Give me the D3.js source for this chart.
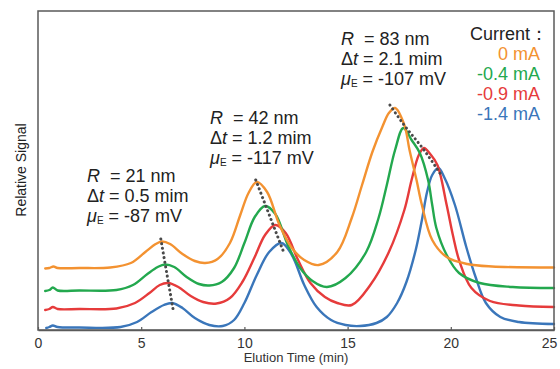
<!DOCTYPE html>
<html>
<head>
<meta charset="utf-8">
<script src="https://cdn.jsdelivr.net/npm/d3@7"></script>
<style>
  html, body { margin: 0; padding: 0; background: #fff; }
  svg text { font-family: "Liberation Sans", Arial, sans-serif; white-space: pre; }
</style>
</head>
<body>
<svg id="chart" width="560" height="369"></svg>
<script>
// ---- Data (elution time in min, relative signal in arbitrary units) ----
const seriesLabels = ["0 mA", "-0.4 mA", "-0.9 mA", "-1.4 mA"];
const seriesColors = ["#F39231", "#23A84E", "#E63B3B", "#3A76BA"];

const current0 = [[0.35,61.5],[0.55,62],[0.75,63.5],[0.95,62],[2.0,62],[3.5,62.5],[4.5,67],[5.2,78],[5.7,86],[6.0,88.5],[6.4,86],[7.0,76],[7.6,69],[8.1,67],[8.7,71],[9.3,87],[9.8,115],[10.2,137],[10.6,148],[11.1,138],[11.7,105],[12.3,82],[12.9,70],[13.6,65],[14.5,78],[15.2,112],[15.7,145],[16.2,178],[16.7,204],[17.0,217],[17.3,222],[17.75,205],[18.0,180],[18.34,150],[18.6,125],[19.1,90],[19.8,73],[20.8,66],[22,63.5],[25,62.5]];
const current04 = [[0.35,39],[0.55,40],[0.72,42.5],[0.95,39.5],[2.0,39.5],[3.8,40],[4.6,45],[5.3,56],[5.8,63],[6.15,65.5],[6.6,63],[7.2,53],[7.8,46],[8.3,44.5],[8.9,48],[9.5,62],[10.0,87],[10.5,113],[11.0,124],[11.5,116],[12.1,85],[12.7,62],[13.3,49],[14.0,43],[14.9,52],[15.9,78],[16.5,112],[16.9,145],[17.3,180],[17.7,202],[18.1,190],[18.5,177],[18.9,150],[19.1,125],[19.3,102],[19.8,75],[20.4,57],[21.4,47],[23,43],[25,42]];
const current09 = [[0.35,20],[0.55,21],[0.72,23],[0.95,21],[2.0,21],[3.8,21.5],[4.7,27],[5.4,37],[5.9,45],[6.3,47],[6.8,43],[7.4,34],[8.0,28],[8.65,26.5],[9.3,32],[9.9,48],[10.5,73],[11.0,95],[11.5,105],[12.0,97],[12.6,70],[13.2,47],[13.9,33],[14.5,27],[15.2,25],[16.1,45],[17.0,78],[17.75,120],[18.1,150],[18.45,175],[18.7,182],[19.0,176],[19.35,165],[19.8,125],[20.1,95],[20.4,70],[21.0,42],[21.9,29],[23.3,24.5],[25,23]];
const current14 = [[0.4,2],[0.55,3],[0.72,4.5],[0.95,3],[2.0,2.5],[4.0,3],[4.8,8],[5.5,18],[6.1,25],[6.5,27],[7.0,22],[7.6,12],[8.3,5],[8.95,4],[9.5,10],[10.0,27],[10.6,55],[11.2,78],[11.8,87],[12.3,75],[12.9,45],[13.5,23],[14.2,10],[14.9,5],[15.6,4],[16.4,7],[16.9,13],[17.4,27],[17.85,48],[18.3,80],[18.6,110],[18.85,138],[19.1,155],[19.4,162],[19.7,152],[20.2,125],[20.75,83],[21.2,53],[21.7,27],[22.4,13],[23.3,8],[25,6]];

// dotted guide lines through the peak maxima
const peakTrail1 = [[5.95,91],[6.55,20]];
const peakTrail2 = [[10.55,150],[11.9,78]];
const peakTrail3 = [[17.05,225],[17.7,206],[18.7,180],[19.6,153]];

const xTicks = [0, 5, 10, 15, 20, 25];
const annotations = [
  { R: "21", dt: "0.5", mu: "-87" },
  { R: "42", dt: "1.2", mu: "-117" },
  { R: "83", dt: "2.1", mu: "-107" }
];

// ---- Drawing ----
const svg = d3.select("#chart");
const x = d3.scaleLinear().domain([0, 25]).range([38, 554]);
const y = d3.scaleLinear().domain([0, 319]).range([330, 11]);

const line = d3.line().x(d => x(d[0])).y(d => y(d[1])).curve(d3.curveCatmullRom.alpha(0.5));

const allSeries = [current0, current04, current09, current14];
[3, 2, 1, 0].forEach(i => {
  svg.append("path")
    .attr("d", line(allSeries[i]))
    .attr("fill", "none")
    .attr("stroke", seriesColors[i])
    .attr("stroke-width", 2.4)
    .attr("stroke-linejoin", "round")
    .attr("stroke-linecap", "round");
});

const dotLine = d3.line().x(d => x(d[0])).y(d => y(d[1])).curve(d3.curveMonotoneX);
[peakTrail1, peakTrail2, peakTrail3].forEach(tr => {
  svg.append("path")
    .attr("d", dotLine(tr))
    .attr("fill", "none")
    .attr("stroke", "#4a4a4a")
    .attr("stroke-width", 3)
    .attr("stroke-linecap", "round")
    .attr("stroke-dasharray", "0.1 4.6");
});

// frame
svg.append("rect")
  .attr("x", x(0)).attr("y", y(319))
  .attr("width", x(25) - x(0)).attr("height", y(0) - y(319))
  .attr("fill", "none").attr("stroke", "#5a5a5a").attr("stroke-width", 1.5);

// x axis
const xAxis = svg.append("g")
  .attr("transform", `translate(0,${y(0)})`)
  .call(d3.axisBottom(x).tickValues(xTicks).tickFormat(d3.format("d")).tickSizeInner(-3).tickSizeOuter(0).tickPadding(8));
xAxis.select(".domain").attr("stroke", "#5a5a5a").attr("stroke-width", 1.5);
xAxis.selectAll(".tick line").attr("stroke", "#5a5a5a").attr("stroke-width", 1.2);
xAxis.selectAll(".tick text")
  .attr("font-family", "Liberation Sans, Arial, sans-serif")
  .attr("font-size", 14).attr("fill", "#333")
  .attr("dx", d => d === 25 ? -5 : 0);

svg.append("text")
  .attr("x", 296).attr("y", 362)
  .attr("text-anchor", "middle")
  .attr("font-size", 13).attr("fill", "#333")
  .text("Elution Time (min)");

svg.append("text")
  .attr("transform", "translate(26,170) rotate(-90)")
  .attr("text-anchor", "middle")
  .attr("font-size", 14).attr("fill", "#222")
  .text("Relative Signal");

// annotations
const annPos = [[87, 182], [210, 124], [341, 45]];
annotations.forEach((a, i) => {
  const [ax, ay] = annPos[i];
  const g = svg.append("g").attr("fill", "#222").attr("font-size", 18);
  const t1 = g.append("text").attr("x", ax).attr("y", ay);
  t1.append("tspan").attr("font-style", "italic").text("R");
  t1.append("tspan").text("  = " + a.R + " nm");
  const t2 = g.append("text").attr("x", ax).attr("y", ay + 20);
  t2.append("tspan").text("\u0394");
  t2.append("tspan").attr("font-style", "italic").text("t");
  t2.append("tspan").text(" = " + a.dt + " mim");
  const t3 = g.append("text").attr("x", ax).attr("y", ay + 40);
  t3.append("tspan").attr("font-style", "italic").text("\u03BC");
  t3.append("tspan").attr("font-size", 10).attr("dy", 2).text("E");
  t3.append("tspan").attr("dy", -2).text(" = " + a.mu + " mV");
});

// legend
svg.append("text")
  .attr("x", 548).attr("y", 40)
  .attr("text-anchor", "end")
  .attr("font-size", 18).attr("fill", "#222")
  .text("Current\uFF1A");
seriesLabels.forEach((lab, i) => {
  svg.append("text")
    .attr("x", 540).attr("y", 60 + i * 20)
    .attr("text-anchor", "end")
    .attr("font-size", 18).attr("fill", seriesColors[i])
    .text(lab);
});
</script>
</body>
</html>
